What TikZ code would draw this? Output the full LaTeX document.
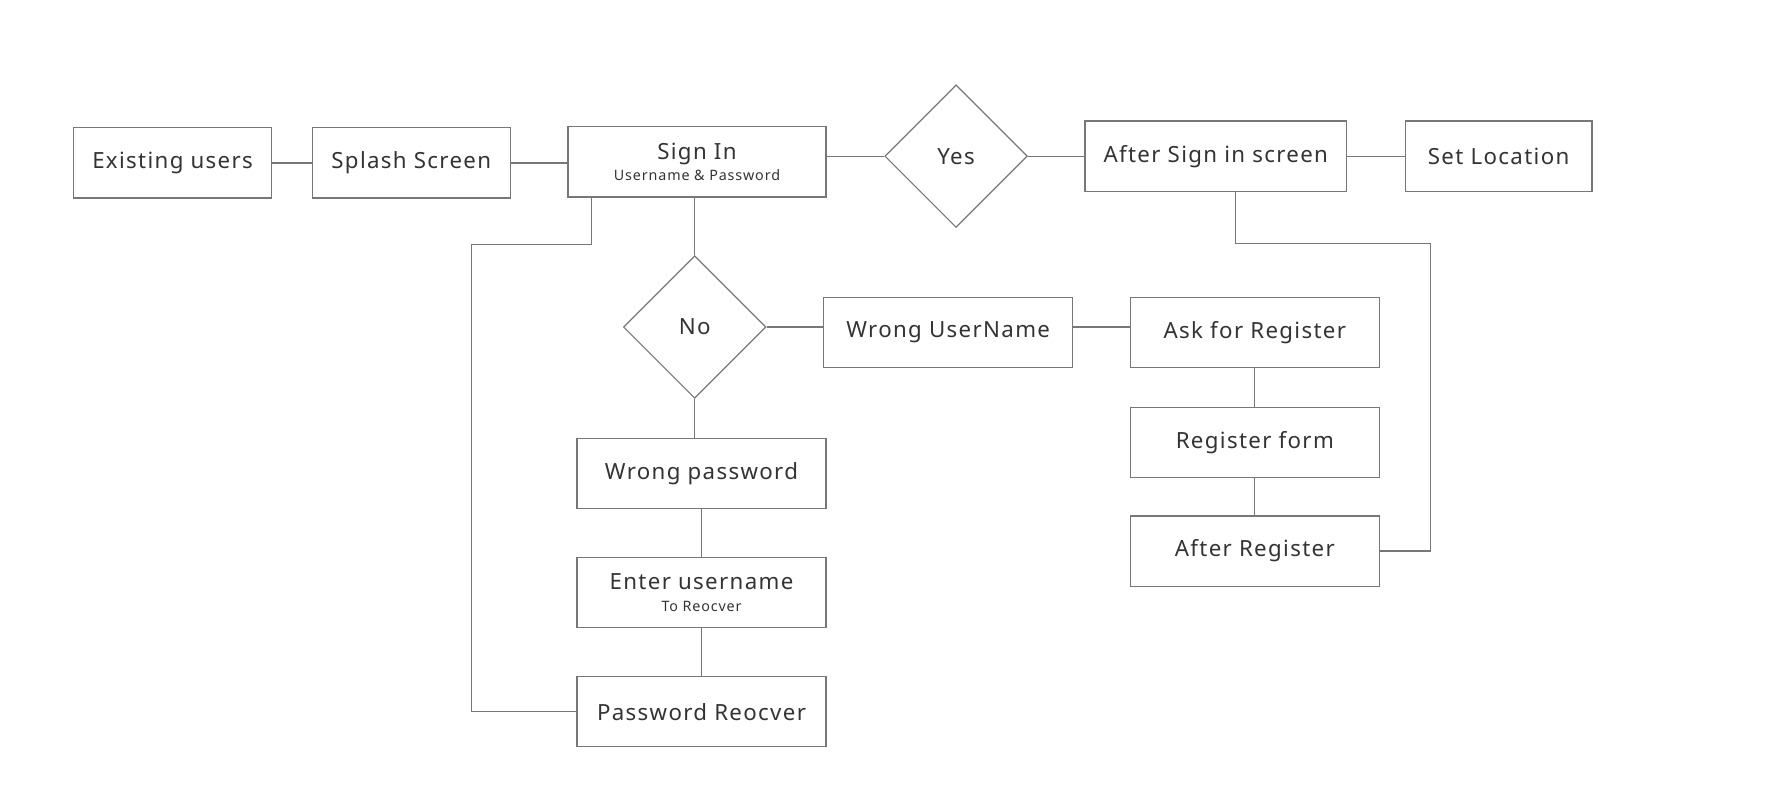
\documentclass[tikz,border=0pt]{standalone}
\usepackage{fontspec}
\setmainfont{Noto Sans}[LetterSpace=6]
\usetikzlibrary{positioning, shapes.geometric}
\definecolor{txt}{HTML}{333333}
\definecolor{edge}{HTML}{777777}
\newcommand{\subtxt}[1]{{\fontsize{3.6}{4.5}\selectfont\mdseries #1}}
\tikzset{
  box/.style={draw=edge, line width=0.3pt, minimum width=2.2cm, minimum height=0.62cm, inner sep=0pt,
    text=txt, font=\fontsize{5.6}{6.5}\selectfont\bfseries, align=center},
  dec/.style={draw=edge, line width=0.3pt, diamond, aspect=1, minimum width=1.26cm, minimum height=1.26cm,
    inner sep=0pt, text=txt, font=\fontsize{5.6}{6.5}\selectfont\bfseries},
  link/.style={draw=edge, line width=0.3pt}
}
\begin{document}
\begin{tikzpicture}[x=0.01cm, y=-0.01cm]
  \useasboundingbox (0,0) rectangle (1567,702);
  % top row
  \node[box, minimum width=1.75cm] (exist) at (152.5,144) {Existing users};
  \node[box, minimum width=1.75cm] (splash) at (363.5,144) {Splash Screen};
  \node[box, minimum width=2.28cm] (signin) at (616,143) {Sign In\\[-1pt]\subtxt{Username \& Password}};
  \node[dec] (yes) at (845,138) {Yes};
  \node[box, minimum width=2.31cm] (after) at (1074.5,138) {After Sign in screen};
  \node[box, minimum width=1.65cm] (loc) at (1324.5,138) {Set Location};
  % second level
  \node[dec] (no) at (614,289) {No};
  \node[box] (wrongu) at (838,294) {Wrong UserName};
  \node[box] (ask) at (1109,294) {Ask for Register};
  \node[box] (form) at (1109,391) {Register form};
  \node[box] (afterreg) at (1109,487) {After Register};
  % recovery
  \node[box] (wrongp) at (620,418.5) {Wrong password};
  \node[box] (enter) at (620,523.5) {Enter username\\[-1pt]\subtxt{To Reocver}};
  \node[box] (recover) at (620,629) {Password Reocver};
  % links
  \draw[link] (exist) -- (splash);
  \draw[link] (splash) -- (splash -| signin.west);
  \draw[link] (yes.west -| signin.east) -- (yes);
  \draw[link] (yes) -- (after);
  \draw[link] (after) -- (loc);
  \draw[link] (signin.south -| no.north) -- (no);
  \draw[link] (no) -- (no -| wrongu.west);
  \draw[link] (wrongu.east |- no) -- (ask.west |- no);
  \draw[link] (no) -- (no |- wrongp.north);
  \draw[link] (wrongp) -- (enter);
  \draw[link] (enter) -- (recover);
  \draw[link] (ask) -- (form);
  \draw[link] (form) -- (afterreg);
  \coordinate (a1) at (523,216);
  \coordinate (a2) at (417,216);
  \draw[link] (signin.south -| a1) -- (a1) -- (a2) -- (a2 |- recover) -- (recover);
  \coordinate (b1) at (1092,215);
  \coordinate (b2) at (1264,215);
  \draw[link] (after.south -| b1) -- (b1) -- (b2) -- (b2 |- afterreg) -- (afterreg);
\end{tikzpicture}
\end{document}
